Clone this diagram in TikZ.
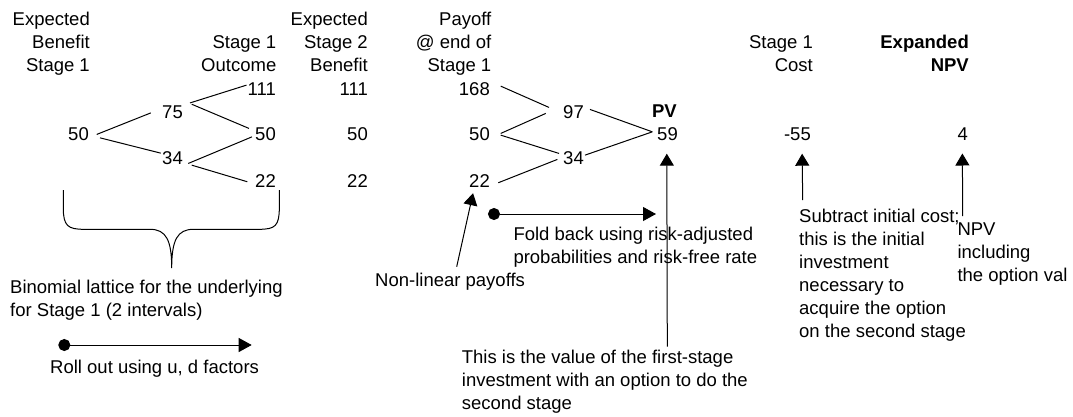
\documentclass[tikz,border=0pt]{standalone}
\usepackage{fontspec}
\setmainfont{Liberation Sans}
\usetikzlibrary{arrows.meta,calc}
\begin{document}
\begin{tikzpicture}[x=1pt,y=-1pt,
  txt/.style={font=\fontsize{18.5}{23}\selectfont, inner sep=0pt, text=black},
  num/.style={txt, anchor=base east},
  hdr/.style={txt, align=right, anchor=base east},
  note/.style={txt, align=left, anchor=base west},
  edge/.style={line width=1pt, black},
  arr/.style={line width=1pt, black, -{Triangle[width=14pt,length=12pt]}},
  dotarr/.style={line width=1pt, black, {Circle[length=12pt]}-{Triangle[width=14pt,length=13pt]}}]
\useasboundingbox (0,0) rectangle (1073,416);

% headers (anchor = baseline of last line)
\node[hdr] (h1) at (90,71) {Expected\\Benefit\\Stage 1};
\node[hdr] (h2) at (276.5,71) {Stage 1\\Outcome};
\node[hdr] (h3) at (368,71) {Expected\\Stage 2\\Benefit};
\node[hdr] (h4) at (491.5,71) {Payoff\\@ end of\\Stage 1};
\node[hdr] (h5) at (813,71) {Stage 1\\Cost};
\node[hdr, font=\fontsize{18.5}{23}\selectfont\bfseries] (h6) at (969,71) {Expanded\\NPV};

% lattice 1
\node[num] (a0) at (89,140) {50};
\node[num] (a1) at (183,118) {75};
\node[num] (a2) at (183,164) {34};
\node[num] (b0) at (276,95) {111};
\node[num] (b1) at (276,140) {50};
\node[num] (b2) at (276,187) {22};
% stage 2 benefit
\node[num] (c0) at (368,95) {111};
\node[num] (c1) at (368,140) {50};
\node[num] (c2) at (368,187) {22};
% payoff lattice
\node[num] (d0) at (490,95) {168};
\node[num] (d1) at (490,140) {50};
\node[num] (d2) at (490,187) {22};
\node[num] (e1) at (584,118) {97};
\node[num] (e2) at (584,164) {34};
\node[num, font=\fontsize{18.5}{23}\selectfont\bfseries] (pv) at (677,117) {PV};
\node[num] (f) at (678,140) {59};
\node[num] (g) at (811,140) {-55};
\node[num] (h) at (968,140) {4};

% lattice edges
\draw[edge] ($(a0.east)+(7.7,0.8)$) -- ($(a1.west)+(-11.3,1.2)$);
\draw[edge] ($(a0.east)+(11,4.2)$) -- ($(a2.west)+(-1.3,-4.5)$);
\draw[edge] ($(a1.east)+(7,-8.8)$) -- ($(b0.west)+(-1,-3.5)$);
\draw[edge] ($(a1.east)+(8.7,-7.5)$) -- ($(b1.west)+(-6,-5.2)$);
\draw[edge] ($(a2.east)+(5.3,5.8)$) -- ($(b1.west)+(-3,3.2)$);
\draw[edge] ($(a2.east)+(8.7,7.5)$) -- ($(b2.west)+(-7.7,1.2)$);

\draw[edge] ($(d0.east)+(10.7,-2.5)$) -- ($(e1.west)+(-14,-4.2)$);
\draw[edge] ($(d1.east)+(10.7,-0.2)$) -- ($(e1.west)+(-17.3,1.8)$);
\draw[edge] ($(d1.east)+(10.7,1.5)$) -- ($(e2.west)+(-4,-4.2)$);
\draw[edge] ($(d2.east)+(8.3,2.2)$) -- ($(e2.west)+(-5.7,1.8)$);
\draw[edge] ($(e1.east)+(6,-2.2)$) -- ($(f.west)+(-4.7,-1.8)$);
\draw[edge] ($(e2.east)+(1,-2.5)$) -- ($(f.west)+(-4.7,-1.8)$);

% brace
\draw[line width=1pt] (63.3,190) -- (63.3,208) .. controls (63.3,226) and (68,229.3) .. (84,229.3)
  -- (150,229.3) .. controls (166,229.3) and (171.7,240) .. (171.7,268)
  .. controls (171.7,240) and (177.4,229.3) .. (193.4,229.3)
  -- (259,229.3) .. controls (275,229.3) and (279.3,226) .. (279.3,208) -- (279.3,190);

% notes (anchor = baseline of last line)
\node[note] (n1) at (10,316.5) {Binomial lattice for the underlying\\for Stage 1 (2 intervals)};
\node[note] (n2) at (50,373.3) {Roll out using u, d factors};
\node[note] (n3) at (375,286.7) {Non-linear payoffs};
\node[note] (n4) at (513.3,263) {Fold back using risk-adjusted\\probabilities and risk-free rate};
\node[note] (n5) at (461.7,409.5) {This is the value of the first-stage\\investment with an option to do the\\second stage};
\node[note] (n6) at (799,337) {Subtract initial cost;\\this is the initial\\investment\\necessary to\\acquire the option\\on the second stage};
\node[note] (n7) at (957.3,281.5) {NPV\\including\\the option val};

% arrows
\coordinate (rs) at (58.3,345);
\coordinate (re) at (251.7,345);
\draw[dotarr] (rs) -- (re);
\coordinate (fs) at (488,214);
\coordinate (fe) at (656,214);
\draw[dotarr] (fs) -- (fe);
\coordinate (nl) at (456.7,266.7);
\draw[arr] (nl) -- ($(d2.south west)+(4,6)$);
\coordinate (t59) at (667.3,346.7);
\draw[arr] (t59) -- ($(f.south)+(-0.7,13.3)$);
\coordinate (t55) at (802.7,200);
\draw[arr] (t55) -- ($(g.south)+(4.7,13.3)$);
\coordinate (t4) at (962.7,216);
\draw[arr] (t4) -- ($(h.south)+(-0.3,13.3)$);
\end{tikzpicture}
\end{document}
